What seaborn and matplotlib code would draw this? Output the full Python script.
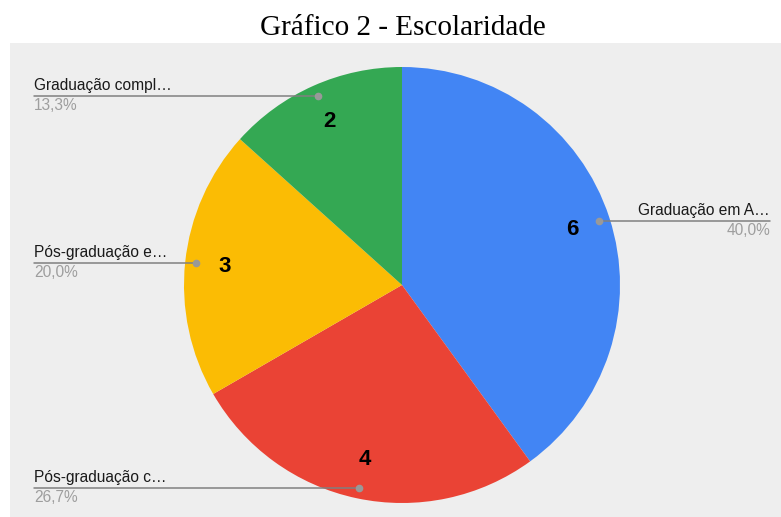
import matplotlib
matplotlib.use("Agg")
import matplotlib.pyplot as plt
from matplotlib.patches import Rectangle
import numpy as np
import seaborn as sns

# data (clockwise from the top)
categories = ["Graduação em A…", "Pós-graduação c…", "Pós-graduação e…", "Graduação compl…"]
counts = [6, 4, 3, 2]
colors = ["#4285F4", "#EA4335", "#FBBC04", "#34A853"]

sns.set_theme(style="white")
plt.rcParams["font.family"] = ["Liberation Sans", "DejaVu Sans"]

W, H = 781, 517
fig = plt.figure(figsize=(W / 100, H / 100), dpi=100)
fig.patch.set_facecolor("white")
ax = fig.add_axes([0, 0, 1, 1])

total = sum(counts)
cx, cy, r = 402, H - 285, 218
wedges, _, autotexts = ax.pie(
    counts,
    colors=colors,
    startangle=90,
    counterclock=False,
    center=(cx, cy),
    radius=r,
    autopct=lambda p: f"{p * total / 100:.0f}",
    pctdistance=0.82,
    wedgeprops=dict(linewidth=0),
    textprops=dict(fontsize=16, fontweight="heavy", color="black"),
)
ax.set_xlim(0, W)
ax.set_ylim(0, H)
ax.set_aspect("auto")
ax.axis("off")

# gray chart panel
ax.add_patch(Rectangle((10, 0), W - 10, H - 43, facecolor="#EEEEEE",
                       edgecolor="none", zorder=0))

# leader lines and labels
for w, name, v in zip(wedges, categories, counts):
    theta = np.deg2rad((w.theta1 + w.theta2) / 2)
    dx = cx + 0.95 * r * np.cos(theta)
    dy = cy + 0.95 * r * np.sin(theta)
    pct = f"{v / total * 100:.1f}".replace(".", ",") + "%"
    if np.cos(theta) > 0:
        x0, x1, tx, ha = dx, 770, 770, "right"
    else:
        x0, x1, tx, ha = 34, dx, 34, "left"
    ax.plot([x0, x1], [dy, dy], color="#808080", lw=1.1, zorder=3)
    ax.plot([dx], [dy], "o", color="#999999", ms=4.5, zorder=4)
    ax.text(tx, dy + 3, name, ha=ha, va="bottom", fontsize=11.2, color="#1A1A1A")
    ax.text(tx, dy - 2, pct, ha=ha, va="top", fontsize=11.2, color="#9E9E9E")

fig.text(403 / W, 1 - 28 / H, "Gráfico 2 - Escolaridade", ha="center", va="center",
         fontsize=21, family="Liberation Serif", color="black")

fig.savefig("out.png", dpi=100)
